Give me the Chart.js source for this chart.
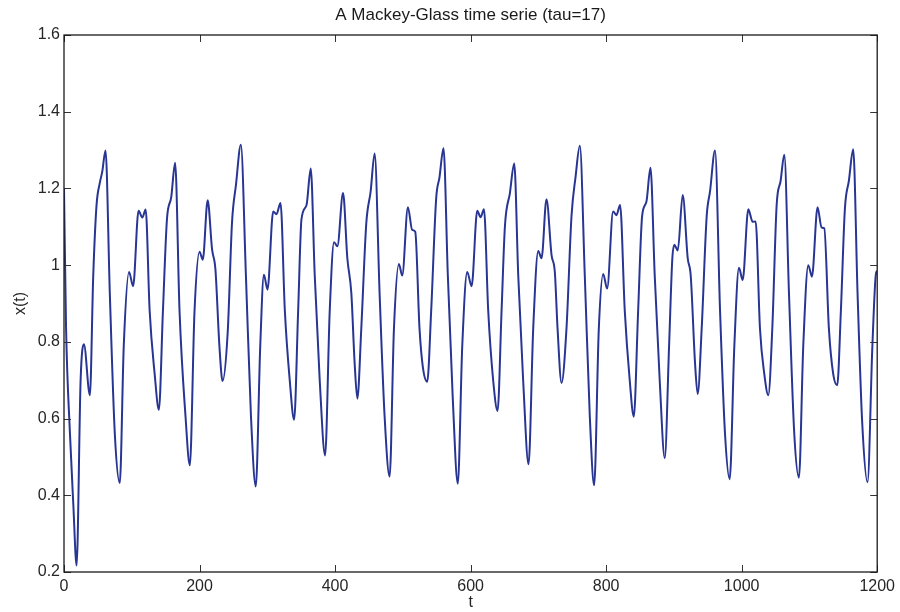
<!DOCTYPE html>
<html>
<head>
<meta charset="utf-8">
<title>Mackey-Glass</title>
<script src="https://cdn.jsdelivr.net/npm/chart.js@4.4.1/dist/chart.umd.min.js"></script>
<style>
    html, body { margin: 0; padding: 0; background: #ffffff; }
    #chartBox { width: 900px; height: 612px; }
</style>
</head>
<body>
<div id="chartBox"><canvas id="mgChart" width="900" height="612"></canvas></div>
<script>
// values
const timeValues = [
    0, 3, 8.8, 13.7, 18.6, 24.5, 29.4, 38.2, 43.1, 48, 52.9, 56.4, 61.3, 67.6, 75, 82.3,
    88.2, 96, 102, 110, 115.6, 120.5, 126.4, 133.8, 140, 146, 151.9, 158.3, 164, 170.5,
    179.3, 185.7, 192.6, 200, 204.8, 212, 218.5, 223.4, 229.3, 234, 241.6, 247.9, 253.8,
    261, 268.5, 275.9, 283, 289.6, 295, 300.3, 308.7, 313.6, 319.5, 325.9, 333.2, 339.6,
    345.5, 350.4, 357.8, 364.1, 370, 377.4, 385.3, 392.1, 398.5, 403.4, 411.8, 418.1, 424,
    428.9, 432.9, 438.7, 446.1, 452.5, 458.4, 465.7, 473.1, 480.5, 486.9, 494.2, 499.1,
    507.5, 513.8, 518.3, 524.6, 529.5, 536, 541.8, 549.2, 554.1, 560, 566.4, 573.7, 581.1,
    587.7, 595, 601.5, 609.8, 614.7, 619.7, 626, 633.4, 639.8, 645.7, 650.6, 658, 664.4,
    670.3, 677.6, 685.5, 692.4, 699.8, 704.7, 712, 719.4, 724.3, 728.3, 734.2, 741.5,
    748.9, 754.8, 761.2, 768.5, 775.9, 782.3, 789.2, 795.6, 801.5, 810.3, 815.2, 820.6,
    827.5, 834.9, 840.8, 847.2, 853.1, 859.4, 865.4, 871.7, 879.1, 886.5, 892.9, 897.7,
    900.7, 905.7, 913, 920.4, 924.8, 931.2, 935.1, 941, 948.4, 953.3, 960.7, 968.1, 975.4,
    982.3, 989.2, 996, 1001.5, 1009.8, 1016.2, 1020.6, 1027, 1033.4, 1039.3, 1045.2,
    1051.6, 1057.5, 1062.9, 1069.8, 1077.6, 1084.5, 1090.9, 1098.3, 1103.7, 1112, 1117.9,
    1121.9, 1128.7, 1135.1, 1141, 1146.4, 1152.3, 1158.2, 1164.6, 1171, 1177.9, 1185.7,
    1192.9, 1197.8, 1200
];
const seriesValues = [
    1.2, 0.84, 0.56, 0.378, 0.217, 0.7, 0.794, 0.661, 0.97, 1.156, 1.215, 1.243, 1.299, 0.927, 0.56, 0.432,
    0.79, 0.982, 0.945, 1.142, 1.124, 1.145, 0.881, 0.716, 0.623, 0.881, 1.119, 1.178, 1.267, 0.88,
    0.606, 0.478, 0.88, 1.035, 1.014, 1.169, 1.041, 0.99, 0.79, 0.698, 0.826, 1.11, 1.21,
    1.314, 0.97, 0.606, 0.423, 0.79, 0.975, 0.936, 1.14, 1.133, 1.162, 0.881, 0.698, 0.597,
    0.88, 1.119, 1.156, 1.252, 0.973, 0.698, 0.504, 0.88, 1.06, 1.049, 1.188, 1.018, 0.927,
    0.744, 0.652, 0.835, 1.11, 1.192, 1.291, 0.927, 0.606, 0.449, 0.835, 1.003, 0.973,
    1.151, 1.092, 1.087, 0.835, 0.735, 0.696, 0.88, 1.174, 1.229, 1.305, 0.973, 0.652, 0.43,
    0.79, 0.982, 0.945, 1.142, 1.125, 1.146, 0.881, 0.698, 0.62, 0.881, 1.1, 1.188, 1.265,
    0.973, 0.698, 0.481, 0.835, 1.037, 1.018, 1.172, 1.027, 0.982, 0.835, 0.693, 0.835,
    1.128, 1.229, 1.311, 0.973, 0.606, 0.426, 0.835, 0.977, 0.939, 1.14, 1.13, 1.157,
    0.881, 0.698, 0.605, 0.88, 1.128, 1.165, 1.254, 0.973, 0.698, 0.497, 0.79, 1.018,
    1.053, 1.038, 1.183, 1.018, 0.973, 0.744, 0.664, 0.835, 1.128, 1.192, 1.299, 0.881, 0.561,
    0.442, 0.79, 0.993, 0.961, 1.146, 1.113, 1.114, 0.835, 0.716, 0.661, 0.835,
    1.156, 1.22, 1.288, 0.927, 0.561, 0.446, 0.79, 1.0, 0.97, 1.151, 1.098,
    1.096, 0.835, 0.716, 0.687, 0.881, 1.146, 1.22, 1.302, 0.927, 0.588, 0.434,
    0.79, 0.973, 0.986
];
const xTicks = [0, 200, 400, 600, 800, 1000, 1200];
const yTicks = [0.2, 0.4, 0.6, 0.8, 1, 1.2, 1.4, 1.6];

const points = timeValues.map((t, i) => ({ x: t, y: seriesValues[i] }));
const fontFamily = "'Liberation Sans', Arial, sans-serif";

// matlab style box with ticks pointing inwards
const boxTicks = {
    id: 'boxTicks',
    afterDraw(chart) {
        const { ctx, chartArea: a, scales } = chart;
        const len = 7;
        ctx.save();
        ctx.strokeStyle = '#333333';
        ctx.lineWidth = 1;
        ctx.beginPath();
        scales.x.ticks.forEach(tk => {
            const px = Math.round(scales.x.getPixelForValue(tk.value)) + 0.5;
            ctx.moveTo(px, a.bottom); ctx.lineTo(px, a.bottom - len);
            ctx.moveTo(px, a.top); ctx.lineTo(px, a.top + len);
        });
        scales.y.ticks.forEach(tk => {
            const py = Math.round(scales.y.getPixelForValue(tk.value)) + 0.5;
            ctx.moveTo(a.left, py); ctx.lineTo(a.left + len, py);
            ctx.moveTo(a.right, py); ctx.lineTo(a.right - len, py);
        });
        ctx.stroke();
        ctx.strokeStyle = '#1a1a1a';
        ctx.lineWidth = 1.3;
        ctx.strokeRect(a.left, a.top, a.right - a.left, a.bottom - a.top);
        ctx.restore();
    }
};

const bgWhite = {
    id: 'bgWhite',
    beforeDraw(chart) {
        const ctx = chart.ctx;
        ctx.save();
        ctx.fillStyle = '#ffffff';
        ctx.fillRect(0, 0, chart.width, chart.height);
        ctx.restore();
    }
};

new Chart(document.getElementById('mgChart').getContext('2d'), {
    type: 'line',
    data: {
        datasets: [{
            label: 'x(t)',
            data: points,
            borderColor: '#283593',
            borderWidth: 2,
            pointRadius: 0,
            fill: false,
            cubicInterpolationMode: 'monotone'
        }]
    },
    options: {
        responsive: false,
        animation: false,
        layout: { padding: { left: 0, right: 21, top: 0, bottom: 0 } },
        plugins: {
            legend: { display: false },
            tooltip: { enabled: false },
            title: {
                display: true,
                text: 'A Mackey-Glass time serie (tau=17)',
                fullSize: false,
                color: '#1a1a1a',
                font: { family: fontFamily, size: 17, weight: 'normal' },
                padding: { top: 5, bottom: 9.6 }
            }
        },
        scales: {
            x: {
                type: 'linear',
                min: 0,
                max: 1200,
                afterBuildTicks: scale => { scale.ticks = xTicks.map(v => ({ value: v })); },
                afterFit: scale => { scale.height = 40; },
                grid: { display: false, drawTicks: false },
                border: { display: false },
                ticks: {
                    padding: 5,
                    color: '#262626',
                    maxRotation: 0,
                    font: { family: fontFamily, size: 16 },
                    callback: v => String(v)
                },
                title: {
                    display: true,
                    text: 't',
                    color: '#262626',
                    font: { family: fontFamily, size: 16 },
                    padding: { top: 0, bottom: 0 }
                }
            },
            y: {
                min: 0.2,
                max: 1.6,
                afterBuildTicks: scale => { scale.ticks = yTicks.map(v => ({ value: v })); },
                afterFit: scale => { scale.width = 64; },
                grid: { display: false, drawTicks: false },
                border: { display: false },
                ticks: {
                    padding: 4,
                    color: '#262626',
                    font: { family: fontFamily, size: 16 },
                    callback: v => String(Number(v.toFixed(2)))
                },
                title: {
                    display: true,
                    text: 'x(t)',
                    color: '#262626',
                    font: { family: fontFamily, size: 16 },
                    padding: { top: 11, bottom: 0 }
                }
            }
        }
    },
    plugins: [bgWhite, boxTicks]
});
</script>
</body>
</html>
